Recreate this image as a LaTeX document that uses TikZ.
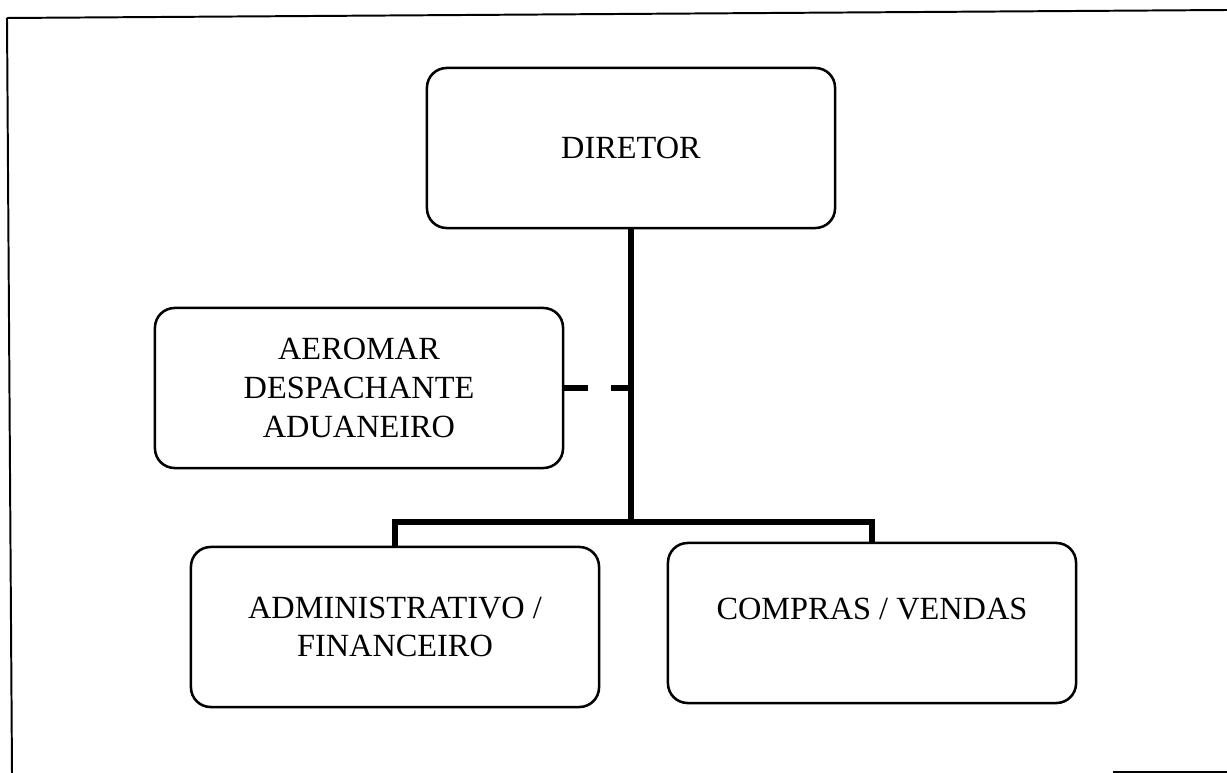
\documentclass[tikz,border=0pt]{standalone}
\usepackage{fontspec}
\setmainfont{Liberation Serif}
\usetikzlibrary{calc}
\tikzset{
    cargo/.style =  {rectangle,
                    rounded corners=14pt,
                    fill=white,
                    draw=black,
                    text=black,
                    line width=1.8pt,
                    minimum width=10.2cm,
                    minimum height=4cm,
                    inner sep=0pt,
                    align=center,
                    font=\fontsize{23}{27.6}\selectfont},
    link/.style =   {draw=black,
                    line width=3.6pt},
    assessoria/.style = {link,
                    dash pattern=on 17pt off 16.5pt},
    moldura/.style = {draw=black,
                    line width=1.4pt}}

\begin{document}
\begin{tikzpicture}[x=0.025cm,y=-0.025cm]
    \useasboundingbox (0,0) rectangle (1227,773);
    % moldura da folha
    \draw[moldura] (7,18) -- (1227,10);
    \draw[moldura] (7,18) -- (12,773);
    \draw[moldura] (1113,772) -- (1227,772);

    \node[cargo]    (dir) at (631,148)  {DIRETOR};
    \node[cargo]    (aer) at (359,388)  {AEROMAR\\DESPACHANTE\\ADUANEIRO};
    \node[cargo]    (adm) at (395,627)  {ADMINISTRATIVO /\\FINANCEIRO};
    \node[cargo, text depth=0.7cm]    (com) at (872,623)  {COMPRAS / VENDAS};
    \coordinate     (jun) at (631,522);

    \path [link]    (dir.south) -- (jun)
                    (adm.north) |- (jun) -| (com.north);
    \path [assessoria]  (aer.east) -- (aer.east -| jun);
\end{tikzpicture}
\end{document}
